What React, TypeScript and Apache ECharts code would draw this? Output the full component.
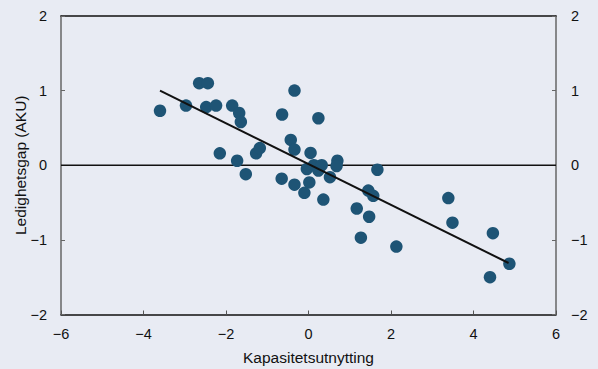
import React, { useEffect, useRef } from "react";
import * as echarts from "echarts";

const xValues = [
  -3.6, -2.97, -2.65, -2.44, -2.48, -2.24, -1.85, -1.68, -1.64, -2.15, -1.73, -1.52,
  -1.27, -1.18, -0.64, -0.34, 0.24, -0.43, -0.34, 0.05, -0.65, -0.34, -0.1, 0.02,
  -0.04, 0.13, 0.24, 0.32, 0.52, 0.7, 0.68, 0.36, 1.67, 1.45, 1.57, 1.17, 1.47,
  1.27, 2.13, 3.39, 3.49, 4.47, 4.4, 4.87,
];
const yValues = [
  0.73, 0.8, 1.1, 1.1, 0.78, 0.8, 0.8, 0.7, 0.58, 0.16, 0.06, -0.12,
  0.16, 0.23, 0.68, 1.0, 0.63, 0.34, 0.21, 0.165, -0.18, -0.26, -0.37, -0.23,
  -0.05, 0.0, -0.07, 0.0, -0.16, 0.06, -0.01, -0.46, -0.06, -0.34, -0.41, -0.58, -0.69,
  -0.97, -1.09, -0.44, -0.77, -0.91, -1.5, -1.32,
];
const fitLine = [
  [-3.6, 1.0],
  [4.85, -1.31],
];
const xTicks = { min: -6, max: 6, interval: 2 };
const yTicks = { min: -2, max: 2, interval: 1 };
const xName = "Kapasitetsutnytting";
const yName = "Ledighetsgap (AKU)";

const minus = (v: number) => String(v).replace("-", "\u2212");

export default function App() {
  const ref = useRef<HTMLDivElement>(null);
  useEffect(() => {
    if (!ref.current) return;
    const chart = echarts.init(ref.current, undefined, { renderer: "svg" });
    const font = "Liberation Sans, Arial, sans-serif";
    const label = { color: "#111", fontSize: 14.5, fontFamily: font };
    const nameStyle = { color: "#111", fontSize: 15.5, fontFamily: font };
    const points = xValues.map((x, i) => [x, yValues[i]]);
    chart.setOption({
      animation: false,
      backgroundColor: "#e8ebf3",
      grid: { left: 61, right: 42, top: 16, bottom: 54.5, containLabel: false, outerBoundsMode: "none" },
      xAxis: [
        {
          type: "value",
          position: "bottom",
          ...xTicks,
          name: xName,
          nameLocation: "middle",
          nameGap: 35,
          nameMoveOverlap: false,
          nameTextStyle: nameStyle,
          axisLine: { onZero: false, lineStyle: { color: "#111", width: 1.5 } },
          axisTick: { inside: true, length: 4, lineStyle: { color: "#555" } },
          axisLabel: { ...label, margin: 12, formatter: minus },
          splitLine: { show: false },
        },
        {
          type: "value",
          position: "top",
          ...xTicks,
          axisLine: { onZero: false, lineStyle: { color: "#111", width: 1.5 } },
          axisTick: { show: false },
          axisLabel: { show: false },
          splitLine: { show: false },
        },
      ],
      yAxis: [
        {
          type: "value",
          position: "left",
          ...yTicks,
          name: yName,
          nameLocation: "middle",
          nameGap: 33,
          nameMoveOverlap: false,
          nameTextStyle: nameStyle,
          axisLine: { show: true, onZero: false, lineStyle: { color: "#666", width: 1.5 } },
          axisTick: { show: true, inside: true, length: 4, lineStyle: { color: "#666" } },
          axisLabel: { ...label, margin: 14, formatter: minus },
          splitLine: { show: false },
        },
        {
          type: "value",
          position: "right",
          ...yTicks,
          axisLine: { show: true, onZero: false, lineStyle: { color: "#666", width: 1.5 } },
          axisTick: { show: true, inside: true, length: 4, lineStyle: { color: "#666" } },
          axisLabel: { ...label, margin: 15, formatter: minus },
          splitLine: { show: false },
        },
      ],
      series: [
        {
          type: "line",
          data: [
            [xTicks.min, 0],
            [xTicks.max, 0],
          ],
          symbol: "none",
          lineStyle: { color: "#111", width: 1.5 },
          z: 1,
        },
        {
          type: "scatter",
          data: points,
          symbolSize: 12.5,
          itemStyle: { color: "#1e5475", opacity: 1 },
          z: 2,
        },
        {
          type: "line",
          data: fitLine,
          symbol: "none",
          lineStyle: { color: "#111", width: 2 },
          z: 3,
        },
      ],
    });
    return () => chart.dispose();
  }, []);
  return <div ref={ref} style={{ width: 598, height: 369, position: "absolute", left: 0, top: 0 }} />;
}
